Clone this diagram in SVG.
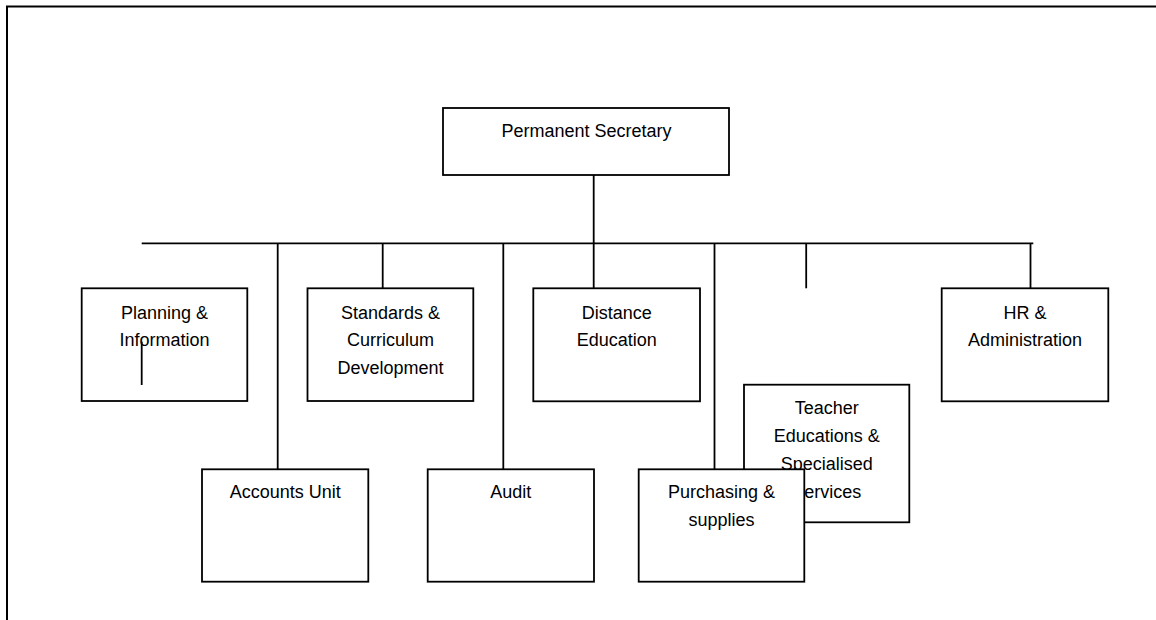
<svg xmlns="http://www.w3.org/2000/svg" width="1156" height="620" viewBox="0 0 1156 620">
<style>
.box{fill:#fff;stroke:#000;stroke-width:1.8}
.ln{fill:none;stroke:#000;stroke-width:1.8}
.t{font-family:"Liberation Sans",Arial,sans-serif;font-size:18px;fill:#000;text-anchor:middle}
</style>
<rect width="1156" height="620" fill="#fff"/>
<path d="M7,620 V6.5 H1156" fill="none" stroke="#000" stroke-width="2"/>
<g id="connectors">
<line class="ln" x1="593.7" y1="175" x2="593.7" y2="288.3"/>
<line class="ln" x1="141.7" y1="243.3" x2="1033.3" y2="243.3"/>
<line class="ln" x1="277.7" y1="243.3" x2="277.7" y2="469.3"/>
<line class="ln" x1="382.7" y1="243.3" x2="382.7" y2="288.3"/>
<line class="ln" x1="503.3" y1="243.3" x2="503.3" y2="469.3"/>
<line class="ln" x1="714.5" y1="243.3" x2="714.5" y2="469.3"/>
<line class="ln" x1="806.2" y1="243.3" x2="806.2" y2="288.3"/>
<line class="ln" x1="1030.5" y1="243.3" x2="1030.5" y2="288.3"/>
</g>
<g id="permanent-secretary">
<rect class="box" x="443" y="108" width="286" height="67"/>
<text class="t" x="586.5" y="137">Permanent Secretary</text>
</g>
<g id="planning">
<rect class="box" x="81.7" y="288.3" width="165.6" height="112.7"/>
<text class="t" x="164.5" y="318.5">Planning &amp;</text>
<text class="t" x="164.5" y="346">Information</text>
<line class="ln" x1="141.7" y1="341.7" x2="141.7" y2="385"/>
</g>
<g id="standards">
<rect class="box" x="307.5" y="288.3" width="165.8" height="112.7"/>
<text class="t" x="390.5" y="318.5">Standards &amp;</text>
<text class="t" x="390.5" y="346">Curriculum</text>
<text class="t" x="390.5" y="373.5">Development</text>
</g>
<g id="distance-education">
<rect class="box" x="533.3" y="288.3" width="166.7" height="113"/>
<text class="t" x="616.7" y="318.5">Distance</text>
<text class="t" x="616.7" y="346">Education</text>
</g>
<g id="hr-administration">
<rect class="box" x="941.7" y="288.3" width="166.6" height="113"/>
<text class="t" x="1025" y="318.5">HR &amp;</text>
<text class="t" x="1025" y="346">Administration</text>
</g>
<g id="accounts-unit">
<rect class="box" x="202" y="469.3" width="166.3" height="112.4"/>
<text class="t" x="285.2" y="498">Accounts Unit</text>
</g>
<g id="audit">
<rect class="box" x="427.7" y="469.3" width="166.3" height="112.4"/>
<text class="t" x="510.8" y="498">Audit</text>
</g>
<g id="teacher-education">
<rect class="box" x="744" y="384.7" width="165.3" height="137.6"/>
<text class="t" x="826.7" y="413.5">Teacher</text>
<text class="t" x="826.7" y="442">Educations &amp;</text>
<text class="t" x="826.7" y="470.3">Specialised</text>
<text class="t" x="826.7" y="498">Services</text>
</g>
<g id="purchasing">
<rect class="box" x="638.7" y="469.3" width="165.6" height="112.4"/>
<text class="t" x="721.5" y="498">Purchasing &amp;</text>
<text class="t" x="721.5" y="526.3">supplies</text>
</g>
</svg>
